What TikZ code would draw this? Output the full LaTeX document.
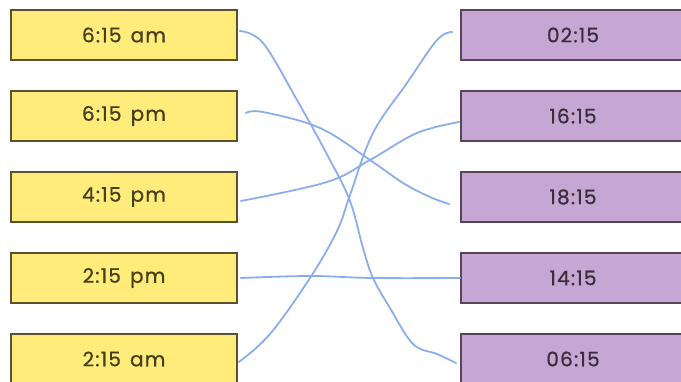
\documentclass[tikz,border=0pt]{standalone}
\usepackage{fontspec}
\setmainfont{Poppins}[FakeBold=0.8, LetterSpace=6, WordSpace=1.4]
\definecolor{yfill}{HTML}{FFEC7A}
\definecolor{ydraw}{HTML}{5A522E}
\definecolor{ytext}{HTML}{45401C}
\definecolor{pfill}{HTML}{C6A6D2}
\definecolor{pdraw}{HTML}{544656}
\definecolor{ptext}{HTML}{3A2E3E}
\definecolor{wire}{HTML}{8AAEEA}
\tikzset{
  lbox/.style={draw=ydraw, fill=yfill, line width=1.6pt, minimum width=226pt, minimum height=50pt, inner sep=0pt, text=ytext, font=\fontsize{20}{22}\selectfont},
  rbox/.style={draw=pdraw, fill=pfill, line width=1.6pt, minimum width=224pt, minimum height=50pt, inner sep=0pt, text=ptext, font=\fontsize{20}{22}\selectfont},
  wirestyle/.style={draw=wire, line width=1.8pt, line cap=round, line join=round}
}
\begin{document}
\begin{tikzpicture}[x=1pt,y=-1pt]
\useasboundingbox (0,0) rectangle (681,381);
\node[lbox] (l1) at (124,35) {6:15 am};
\node[lbox] (l2) at (124,116) {6:15 pm};
\node[lbox] (l3) at (124,197) {4:15 pm};
\node[lbox] (l4) at (124,278) {2:15 pm};
\node[lbox] (l5) at (124,359) {2:15 am};
\node[rbox] (r1) at (573,35) {02:15};
\node[rbox] (r2) at (573,116) {16:15};
\node[rbox] (r3) at (573,197) {18:15};
\node[rbox] (r4) at (573,278) {14:15};
\node[rbox] (r5) at (573,359) {06:15};
\draw[wirestyle] plot[smooth, tension=0.6] coordinates {([shift={(2pt,4pt)}]l1.east) (263,43) (297,100) (330,160) (350,201) (363,248) (373,278) (390,308) (413,344) (437,354) ([shift={(-4pt,-4pt)}]r5.west)};
\draw[wirestyle] plot[smooth, tension=0.6] coordinates {([shift={(8pt,3pt)}]l2.east) (263,112) (320,128) (370,160) (403,183) (430,197) ([shift={(-11pt,-7pt)}]r3.west)};
\draw[wirestyle] plot[smooth, tension=0.6] coordinates {([shift={(3pt,-4pt)}]l3.east) (327,182) (370,160) (417,133) ([shift={(-1pt,-6pt)}]r2.west)};
\draw[wirestyle] plot[smooth, tension=0.6] coordinates {([shift={(3pt,0pt)}]l4.east) (310,276) (373,278) (r4.west)};
\draw[wirestyle] plot[smooth, tension=0.6] coordinates {([shift={(1pt,-3pt)}]l5.east) (270,334) (310,278) (337,231) (350,195) (373,133) (407,83) (437,40) ([shift={(-8pt,3pt)}]r1.west)};
\end{tikzpicture}
\end{document}
